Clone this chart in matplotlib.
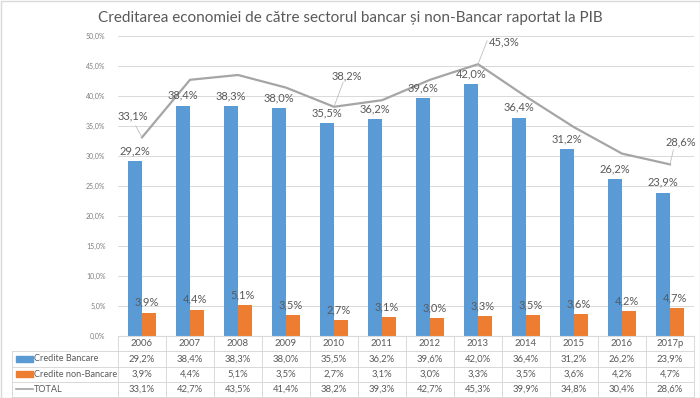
import numpy as np
import matplotlib
matplotlib.use('Agg')
import matplotlib.pyplot as plt
from matplotlib.patches import Rectangle
from matplotlib.lines import Line2D

# --- data ---
years = ['2006', '2007', '2008', '2009', '2010', '2011', '2012', '2013',
         '2014', '2015', '2016', '2017p']
bancare = [29.2, 38.4, 38.3, 38.0, 35.5, 36.2, 39.6, 42.0, 36.4, 31.2, 26.2, 23.9]
non_bancare = [3.9, 4.4, 5.1, 3.5, 2.7, 3.1, 3.0, 3.3, 3.5, 3.6, 4.2, 4.7]
total = [33.1, 42.7, 43.5, 41.4, 38.2, 39.3, 42.7, 45.3, 39.9, 34.8, 30.4, 28.6]
series_names = ['Credite Bancare', 'Credite non-Bancare', 'TOTAL']
yticks = [0, 5, 10, 15, 20, 25, 30, 35, 40, 45, 50]

# only these TOTAL points carry a label:
# index -> (label dx, label dy, leader end dx, leader end dy)
total_labels = {
    0: (-0.2, 3.5, -0.13, 1.9),
    4: (0.27, 5.1, 0.19, 4.1),
    7: (0.54, 3.75, 0.19, 3.9),
    11: (0.22, 3.7, 0.07, 2.4),
}

BLUE = '#5B9BD5'
ORANGE = '#ED7D31'
GRAY = '#A5A5A5'
TXT = '#595959'
GRID = '#D9D9D9'

plt.rcParams['font.family'] = ['Lato', 'DejaVu Sans']

W, H = 700, 398
fig = plt.figure(figsize=(W / 100, H / 100), dpi=100)


def fmt(v):
    return f'{v:.1f}%'.replace('.', ',')


# --- main chart ---
left, right = 118, 694
y0, y50 = 336, 36
ax = fig.add_axes([left / W, (H - y0) / H, (right - left) / W, (y0 - y50) / H])
x = np.arange(len(years))
bw = 0.29

ax.bar(x - bw / 2, bancare, width=bw, color=BLUE, zorder=2)
ax.bar(x + bw / 2, non_bancare, width=bw, color=ORANGE, zorder=2)
ax.plot(x, total, color=GRAY, lw=1.6, zorder=3)

for i in range(len(years)):
    ax.text(x[i] - bw / 2, bancare[i] + 0.8, fmt(bancare[i]), ha='center',
            va='bottom', fontsize=8, color=TXT, zorder=4)
    ax.text(x[i] + bw / 2 - 0.05, non_bancare[i] + 0.8, fmt(non_bancare[i]),
            ha='center', va='bottom', fontsize=8, color=TXT, zorder=4)

for i, (dx, dy, ex, ey) in total_labels.items():
    ax.plot([x[i], x[i] + ex], [total[i], total[i] + ey],
            color='#BFBFBF', lw=0.6, zorder=3)
    ax.text(x[i] + dx, total[i] + dy, fmt(total[i]), ha='center',
            va='center', fontsize=8, color=TXT, zorder=4)

ax.set_xlim(-0.5, len(years) - 0.5)
ax.set_ylim(0, 50)
ax.set_yticks(yticks)
ax.set_yticklabels([fmt(t) for t in yticks], fontsize=5, color='#7F7F7F')
ax.set_xticks([])
ax.tick_params(axis='y', length=0, pad=9)
ax.grid(axis='y', color=GRID, lw=0.7, zorder=0)
for s in ['top', 'right', 'left']:
    ax.spines[s].set_visible(False)
ax.spines['bottom'].set_color(GRID)

fig.text(350 / W, 1 - 18 / H, 'Creditarea economiei de către sectorul bancar și non-Bancar raportat la PIB',
         ha='center', va='center', fontsize=11, color=TXT)

# --- data table under the chart ---
tleft = 10
tb = fig.add_axes([tleft / W, 1 / H, (right - tleft) / W, 61 / H])
xl = -0.5 - (left - tleft) / 48.0
tb.set_xlim(xl, len(years) - 0.5)
tb.set_ylim(4, 0)
tb.axis('off')

rows = [bancare, non_bancare, total]
for i, yr in enumerate(years):
    tb.text(i, 0.5, yr, ha='center', va='center', fontsize=6.8, color=TXT)
    for r, vals in enumerate(rows):
        tb.text(i, r + 1.5, fmt(vals[i]), ha='center', va='center', fontsize=6.8, color=TXT)

# grid lines of the table
for k in range(len(years) + 1):
    tb.plot([k - 0.5, k - 0.5], [0, 4], color=GRID, lw=0.7, clip_on=False)
tb.plot([xl + 0.05, xl + 0.05], [1, 4], color=GRID, lw=0.7, clip_on=False)
for r in range(1, 5):
    tb.plot([xl + 0.05, len(years) - 0.5], [r, r], color=GRID, lw=0.7, clip_on=False)

# legend keys inside the table
kx = xl + 0.12
tb.add_patch(Rectangle((kx, 1.3), 0.36, 0.4, color=BLUE))
tb.add_patch(Rectangle((kx, 2.3), 0.36, 0.4, color=ORANGE))
tb.add_line(Line2D([kx, kx + 0.36], [3.5, 3.5], color=GRAY, lw=1.2))
for r, name in enumerate(series_names):
    tb.text(kx + 0.38, r + 1.5, name, ha='left', va='center', fontsize=6.6, color=TXT)

# outer frame of the chart
fig.add_artist(Rectangle((0.5 / W, 0.5 / H), 1 - 1 / W, 1 - 1 / H, transform=fig.transFigure,
                         fill=False, ec='#D9D9D9', lw=1))

fig.savefig('out.png', dpi=100)
